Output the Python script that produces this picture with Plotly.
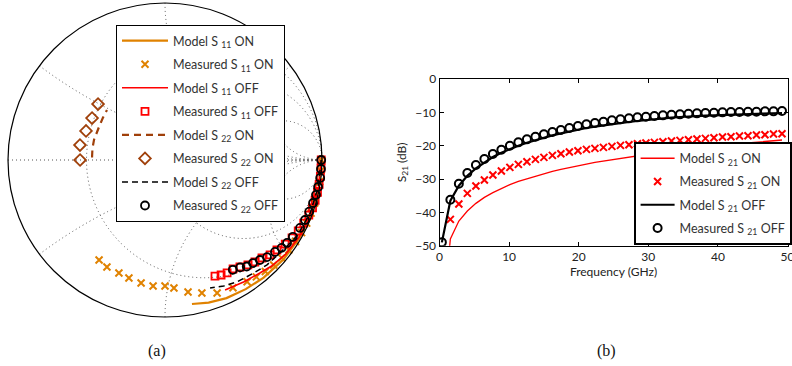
import numpy as np
import plotly.graph_objects as go

# ---------------- Smith chart data (reflection coefficient: magnitude, phase in degrees)
s11_on_model_mag = [0.995, 0.995, 0.994, 0.99, 0.985, 0.978, 0.97, 0.963, 0.95, 0.933]
s11_on_model_deg = [0, -10, -20, -30, -40, -50, -58, -66, -73, -79.4]

s11_on_meas_mag = [0.995, 0.995, 0.994, 0.993, 0.992, 0.99, 0.988, 0.985, 0.98, 0.975, 0.97, 0.962,
                   0.955, 0.945, 0.935, 0.922, 0.91, 0.879, 0.853, 0.817, 0.803, 0.806, 0.798, 0.786,
                   0.777, 0.775, 0.763]
s11_on_meas_deg = [0, -4, -8, -12, -16, -20, -24, -28, -32, -36, -40, -44,
                   -48, -52, -56, -62, -68.6, -74.5, -80.1, -86, -90, -95.4, -101, -107,
                   -112.2, -118.5, -123.4]

s11_off_model_mag = [0.995, 0.994, 0.99, 0.985, 0.975, 0.957, 0.94, 0.925, 0.912]
s11_off_model_deg = [0, -10, -20, -30, -38, -45, -50, -57, -65.2]

s11_off_meas_mag = [0.995, 0.995, 0.995, 0.994, 0.993, 0.99, 0.988, 0.981, 0.971, 0.961, 0.949, 0.935,
                    0.915, 0.902, 0.878, 0.866, 0.852, 0.832, 0.818, 0.821, 0.815, 0.805]
s11_off_meas_deg = [0, -3, -6, -9, -12, -15, -18, -21, -24.5, -28, -31.5, -35,
                    -38.8, -42.1, -45.3, -48.6, -51.7, -55, -58, -61.2, -64, -66.7]

s22_on_model_mag = [0.465, 0.468, 0.47, 0.47, 0.478, 0.488]
s22_on_model_deg = [178, 171, 164, 153.4, 146, 139.2]

s22_on_meas_mag = [0.541, 0.55, 0.536, 0.536, 0.556]
s22_on_meas_deg = [180, 170, 159.8, 150.1, 140.1]

s22_off_model_mag = [0.995, 0.99, 0.985, 0.97, 0.945, 0.932, 0.915, 0.902, 0.885, 0.864]
s22_off_model_deg = [0, -10, -20, -30, -37.3, -45.8, -52, -59.4, -65, -70.6]

s22_off_meas_mag = [0.995, 0.995, 0.995, 0.99, 0.987, 0.982, 0.976, 0.97, 0.963, 0.95, 0.94, 0.93,
                    0.913, 0.897, 0.878, 0.863, 0.855, 0.835, 0.822]
s22_off_meas_deg = [0, -3.3, -6.6, -10, -13, -16.2, -19.7, -23.2, -26.7, -31, -34.2, -37,
                    -39.9, -43.6, -46.5, -49.5, -52.5, -55, -58.3]

# ---------------- S21 data
freq_ghz = [0.34, 1.56, 2.78, 4.00, 5.23, 6.45, 7.67, 8.89, 10.11, 11.33, 12.56, 13.78, 15.00, 16.22,
            17.44, 18.66, 19.89, 21.11, 22.33, 23.55, 24.77, 26.00, 27.22, 28.44, 29.66, 30.88,
            32.10, 33.33, 34.55, 35.77, 36.99, 38.21, 39.43, 40.66, 41.88, 43.10, 44.32, 45.54,
            46.76, 47.99, 49.21]

s21_on_model = [-75.0, -48.0, -42.6, -39.6, -37.3, -35.5, -34.1, -32.8, -31.7, -30.7, -29.9, -29.1,
                -28.4, -27.7, -27.1, -26.5, -26.0, -25.5, -25.0, -24.6, -24.1, -23.7, -23.3, -23.0,
                -22.6, -22.3, -21.9, -21.6, -21.3, -21.0, -20.7, -20.5, -20.2, -19.9, -19.7, -19.4,
                -19.2, -19.0, -18.7, -18.5, -18.3]
s21_on_meas = [None, -42.1, -37.5, -34.3, -32.1, -30.3, -28.8, -27.6, -26.5, -25.6, -24.8, -24.1,
               -23.5, -22.9, -22.4, -21.9, -21.5, -21.1, -20.8, -20.5, -20.2, -19.9, -19.7, -19.4,
               -19.2, -19.0, -18.8, -18.6, -18.4, -18.2, -18.0, -17.8, -17.6, -17.4, -17.3, -17.1,
               -17.0, -16.8, -16.7, -16.5, -16.4]
s21_off_model = [-49.0, -36.5, -32.0, -29.0, -26.8, -25.0, -23.4, -22.1, -21.0, -20.0, -19.1, -18.3,
                 -17.6, -16.9, -16.3, -15.7, -15.2, -14.7, -14.3, -13.9, -13.5, -13.2, -12.9, -12.6,
                 -12.3, -12.1, -11.8, -11.6, -11.4, -11.2, -11.1, -11.0, -10.9, -10.8, -10.7, -10.6,
                 -10.5, -10.4, -10.3, -10.3, -10.2]
s21_off_meas = [-49.0, -36.2, -31.4, -28.2, -25.8, -24.0, -22.5, -21.2, -20.0, -19.0, -18.1, -17.3,
                -16.6, -15.9, -15.3, -14.7, -14.1, -13.6, -13.2, -12.8, -12.4, -12.1, -11.8, -11.5,
                -11.3, -11.1, -10.9, -10.7, -10.6, -10.4, -10.3, -10.2, -10.1, -10.0, -9.9, -9.9,
                -9.8, -9.8, -9.7, -9.7, -9.6]

ORANGE = "#E08200"
BROWN = "#A0400A"
RED = "#FF0000"
BLACK = "#000000"
FONT = "Lato"


def to_z(mag, deg):
    g = np.array(mag) * np.exp(1j * np.deg2rad(np.array(deg)))
    z = (1 + g) / (1 - g)
    return z.real, z.imag


fig = go.Figure()

def smith_trace(mag, deg, name, group, **kw):
    re, im = to_z(mag, deg)
    fig.add_trace(go.Scattersmith(real=re, imag=im, name=name, legendgroup=group,
                                  legend="legend", **kw))

smith_trace(s11_on_model_mag, s11_on_model_deg, "Model S <sub>11</sub> ON", "a1",
            mode="lines", line=dict(color=ORANGE, width=2.2))
smith_trace(s11_on_meas_mag, s11_on_meas_deg, "Measured S <sub>11</sub> ON", "a2",
            mode="markers", marker=dict(symbol="x-thin", size=7, line=dict(color=ORANGE, width=2)))
smith_trace(s11_off_model_mag, s11_off_model_deg, "Model S <sub>11</sub> OFF", "a3",
            mode="lines", line=dict(color=RED, width=1.6))
smith_trace(s11_off_meas_mag, s11_off_meas_deg, "Measured S <sub>11</sub> OFF", "a4",
            mode="markers", marker=dict(symbol="square-open", size=7, color=RED, line=dict(width=1.8)))
smith_trace(s22_on_model_mag, s22_on_model_deg, "Model S <sub>22</sub> ON", "a5",
            mode="lines", line=dict(color=BROWN, width=2.2, dash="7px,5px"))
smith_trace(s22_on_meas_mag, s22_on_meas_deg, "Measured S <sub>22</sub> ON", "a6",
            mode="markers", marker=dict(symbol="diamond-open", size=9, color=BROWN, line=dict(width=1.8)))
smith_trace(s22_off_model_mag, s22_off_model_deg, "Model S <sub>22</sub> OFF", "a7",
            mode="lines", line=dict(color=BLACK, width=1.5, dash="6px,4px"))
smith_trace(s22_off_meas_mag, s22_off_meas_deg, "Measured S <sub>22</sub> OFF", "a8",
            mode="markers", marker=dict(symbol="circle-open", size=8, color=BLACK, line=dict(width=1.8)))

# S21 traces
fig.add_trace(go.Scatter(x=freq_ghz, y=s21_on_model, mode="lines", name="Model S <sub>21</sub> ON",
                         line=dict(color=RED, width=1.3), legend="legend2", legendgroup="b1"))
fig.add_trace(go.Scatter(x=freq_ghz, y=s21_on_meas, mode="markers", name="Measured S <sub>21</sub> ON",
                         marker=dict(symbol="x-thin", size=7, line=dict(color=RED, width=2)),
                         legend="legend2", legendgroup="b2"))
fig.add_trace(go.Scatter(x=freq_ghz, y=s21_off_model, mode="lines", name="Model S <sub>21</sub> OFF",
                         line=dict(color=BLACK, width=2.2), legend="legend2", legendgroup="b3"))
fig.add_trace(go.Scatter(x=freq_ghz, y=s21_off_meas, mode="markers", name="Measured S <sub>21</sub> OFF",
                         marker=dict(symbol="circle-open", size=8, color=BLACK, line=dict(width=2)),
                         legend="legend2", legendgroup="b4"))

W, H = 792, 366
cx, cy, R = 165, 160, 157

grid = dict(showticklabels=False, ticks="", gridcolor="#555555", gridwidth=1, griddash="1px,3px")
fig.update_layout(
    width=W, height=H,
    margin=dict(l=0, r=0, t=0, b=0, autoexpand=False),
    paper_bgcolor="white", plot_bgcolor="white",
    font=dict(family=FONT, size=12, color="#222222"),
    smith=dict(
        domain=dict(x=[(cx - R) / W, (cx + R) / W], y=[1 - (cy + R) / H, 1 - (cy - R) / H]),
        bgcolor="white",
        realaxis=dict(tickvals=[1 / 3, 1, 3], showline=False, **grid),
        imaginaryaxis=dict(tickvals=[-3, -1, -1 / 3, 0, 1 / 3, 1, 3], showline=True,
                           linecolor="black", linewidth=1.2, **grid),
    ),
    xaxis=dict(domain=[439.5 / W, 787.5 / W], range=[0, 50], tickvals=[0, 10, 20, 30, 40, 50],
               showline=True, linecolor="black", linewidth=1, mirror="ticks", ticks="inside",
               ticklen=4, tickcolor="black", showgrid=False, zeroline=False,
               ticklabeloverflow="allow",
               title=dict(text="Frequency (GHz)", standoff=2, font=dict(size=12)),
               tickfont=dict(size=12)),
    yaxis=dict(domain=[1 - 245.7 / H, 1 - 79 / H], range=[-50, 0],
               tickvals=[-50, -40, -30, -20, -10, 0],
               showline=True, linecolor="black", linewidth=1, mirror="ticks", ticks="inside",
               ticklen=4, tickcolor="black", showgrid=False, zeroline=False,
               title=dict(text="S<sub>21</sub> (dB)", standoff=6, font=dict(size=12)),
               tickfont=dict(size=12)),
    legend=dict(x=116 / W, y=1 - 25 / H, xanchor="left", yanchor="top", bgcolor="white",
                bordercolor="black", borderwidth=1, font=dict(family=FONT, size=12.5, color="#333333"),
                tracegroupgap=4.3, itemwidth=46),
    legend2=dict(x=634 / W, y=1 - 142 / H, xanchor="left", yanchor="top", bgcolor="white",
                 bordercolor="black", borderwidth=1.6, font=dict(family=FONT, size=12.5, color="#333333"),
                 tracegroupgap=4, itemwidth=34),
    annotations=[
        dict(text="(a)", x=156.5 / W, y=1 - 350.5 / H, xref="paper", yref="paper", showarrow=False,
             xanchor="center", yanchor="middle",
             font=dict(family="Liberation Serif", size=16, color="#111111")),
        dict(text="(b)", x=606 / W, y=1 - 350.5 / H, xref="paper", yref="paper", showarrow=False,
             xanchor="center", yanchor="middle",
             font=dict(family="Liberation Serif", size=16, color="#111111")),
    ],
)

fig.write_html("out.html", config={"displayModeBar": False},
               post_script="document.body.style.margin='0px';document.body.style.overflow='hidden';")
